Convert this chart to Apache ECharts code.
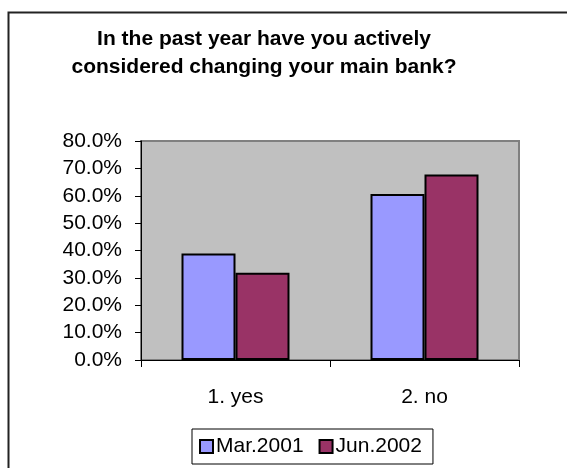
<!DOCTYPE html>
<html><head><meta charset="utf-8">
<script src="https://cdn.jsdelivr.net/npm/echarts@6/dist/echarts.min.js"></script>
<style>html,body{margin:0;padding:0;background:#fff}#c{width:567px;height:468px}</style>
</head><body><div id="c"></div>
<script>
const titleText = 'In the past year have you actively\nconsidered changing your main bank?';
const categories = ['1. yes', '2. no'];
const seriesNames = ['Mar.2001', 'Jun.2002'];
const mar2001 = [38.9, 60.6];
const jun2002 = [31.9, 67.8];
const yTicks = { min: 0, max: 80, interval: 10 };
const FONT = 'Liberation Sans, Arial, sans-serif';

const chart = echarts.init(document.getElementById('c'), null, { renderer: 'canvas' });
chart.setOption({
  animation: false,
  backgroundColor: '#fff',
  graphic: [{
    type: 'rect', left: 6, top: 10, shape: { width: 620, height: 520 },
    style: { fill: 'none', stroke: '#222', lineWidth: 2 }, silent: true
  }],
  title: {
    text: titleText, left: 259, top: 20, textAlign: 'center',
    textStyle: { fontFamily: FONT, fontWeight: 'bold', fontSize: 21, lineHeight: 28, color: '#000' }
  },
  grid: {
    left: 141, right: 48, top: 141, bottom: 108,
    show: true, backgroundColor: '#C0C0C0', borderColor: '#808080', borderWidth: 2
  },
  legend: {
    data: seriesNames, left: 192, top: 429,
    padding: [7, 11, 7, 7], itemGap: 15, itemWidth: 13, itemHeight: 13,
    borderColor: '#000', borderWidth: 1, icon: 'rect',
    itemStyle: { borderColor: '#000', borderWidth: 2 },
    textStyle: { fontFamily: FONT, fontSize: 21, color: '#000', padding: [0, 0, 0, -2] }
  },
  xAxis: {
    type: 'category', data: categories,
    axisLine: { lineStyle: { color: '#000', width: 1 } },
    axisTick: { show: true, length: 7, lineStyle: { color: '#000' } },
    axisLabel: { fontFamily: FONT, fontSize: 21, color: '#000', margin: 27 },
    splitLine: { show: false }
  },
  yAxis: {
    type: 'value', min: yTicks.min, max: yTicks.max, interval: yTicks.interval,
    axisLine: { show: true, lineStyle: { color: '#000', width: 1 } },
    axisTick: { show: true, length: 6, lineStyle: { color: '#000' } },
    axisLabel: { fontFamily: FONT, fontSize: 21, color: '#000', margin: 19,
      formatter: v => v.toFixed(1) + '%' },
    splitLine: { show: false }
  },
  series: [
    { name: seriesNames[0], type: 'bar', data: mar2001, barWidth: 54, barGap: '0%',
      itemStyle: { color: '#9999FF', borderColor: '#000', borderWidth: 2 } },
    { name: seriesNames[1], type: 'bar', data: jun2002, barWidth: 54,
      itemStyle: { color: '#993366', borderColor: '#000', borderWidth: 2 } }
  ]
});
</script></body></html>
